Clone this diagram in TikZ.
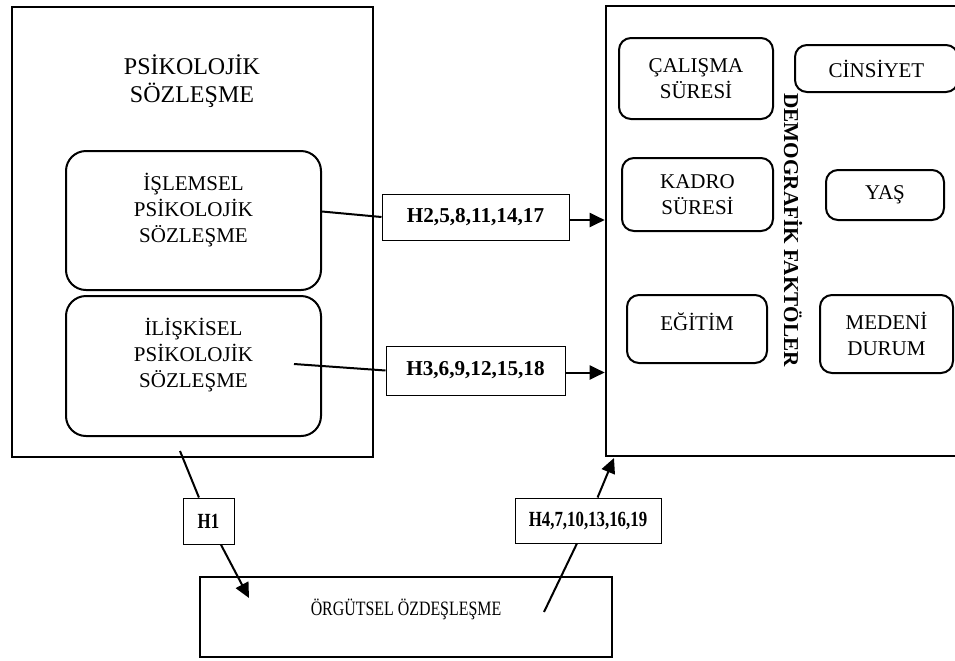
\documentclass[tikz,border=0pt]{standalone}
\usepackage{fontspec}
\setmainfont{Liberation Serif}
\newfontfamily\darserif[FakeStretch=0.78]{Liberation Serif}
\usetikzlibrary{arrows.meta}

\begin{document}
\begin{tikzpicture}[x=0.5pt, y=-0.5pt,
		disbox/.style={draw, line width=1.3pt, inner sep=0pt},
		icbox/.style={draw, line width=1pt, rounded corners=10pt, align=center, inner sep=0pt, font=\fontsize{10.5}{13}\selectfont},
		kucuk/.style={icbox, rounded corners=6pt},
		hbox/.style={draw, line width=0.5pt, inner sep=0pt, font=\fontsize{10.6}{12}\selectfont\bfseries},
		altbox/.style={hbox, font=\darserif\fontsize{10.8}{12}\selectfont\bfseries},
		cizgi/.style={line width=1pt},
		ok/.style={line width=1pt, -{Triangle[length=7.5pt, width=7pt]}}]
			\clip (0,0) rectangle (955,660);

			\node[disbox, minimum width=180.5pt, minimum height=225pt] (psk) at (192.5,232) {};
			\node[align=center, font=\fontsize{12}{14}\selectfont] (pskad) at (192,81) {PSİKOLOJİK\\SÖZLEŞME};
			\node[icbox, minimum width=127.5pt, minimum height=69.5pt] (isl) at (193.5,220.5) {İŞLEMSEL\\PSİKOLOJİK\\SÖZLEŞME\\~};
			\node[icbox, minimum width=127.5pt, minimum height=70pt] (ilk) at (193.5,366) {İLİŞKİSEL\\PSİKOLOJİK\\SÖZLEŞME\\~};

			\node[disbox, minimum width=180pt, minimum height=225pt] (dem) at (786,231) {};
			\node[rotate=-90, font=\fontsize{10.6}{12}\selectfont\bfseries] (demad) at (793,230) {DEMOGRAFİK FAKTÖLER};
			\node[kucuk, minimum width=77pt, minimum height=40.5pt] (calis) at (696,78.5) {ÇALIŞMA\\SÜRESİ};
			\node[kucuk, minimum width=81.5pt, minimum height=23.5pt] (cins) at (876.5,68.5) {CİNSİYET};
			\node[kucuk, minimum width=75.5pt, minimum height=36.5pt] (kadro) at (697.5,194.5) {KADRO\\SÜRESİ};
			\node[kucuk, minimum width=59pt, minimum height=25pt] (yas) at (885,195) {YAŞ};
			\node[kucuk, minimum width=70pt, minimum height=34pt] (egit) at (697,329) {EĞİTİM\\[-6pt]~};
			\node[kucuk, minimum width=66.5pt, minimum height=39pt] (med) at (886.5,334) {MEDENİ\\DURUM};

			\node[disbox, align=center, minimum width=206pt, minimum height=40pt, font=\darserif\fontsize{10.2}{12}\selectfont] (org) at (406,617) {ÖRGÜTSEL ÖZDEŞLEŞME\\[-2pt]~};

			\node[hbox, minimum width=93.5pt, minimum height=23pt] (h2) at (475.5,217) {H2,5,8,11,14,17};
			\node[hbox, minimum width=89.5pt, minimum height=24.5pt] (h3) at (475.5,370.5) {H3,6,9,12,15,18};
			\node[altbox, minimum width=25.5pt, minimum height=23pt] (h1) at (208.5,521) {H1};
			\node[altbox, minimum width=73pt, minimum height=22.5pt] (h4) at (588,520.5) {H4,7,10,13,16,19};

			\coordinate (ilkuc) at (294,364);
			\coordinate (h1bas) at (180,451);
			\coordinate (h1uc) at (249,598);
			\coordinate (h4bas) at (544,612);
			\coordinate (h4uc) at (614,458);

			\draw[cizgi] ([yshift=4.5pt]isl.east) -- (h2.west);
			\draw[ok] ([yshift=-1.5pt]h2.east) -- ([yshift=-1.5pt]h2.east -| dem.west);
			\draw[cizgi] (ilkuc) -- (h3.west);
			\draw[ok] ([yshift=-1pt]h3.east) -- ([yshift=-1pt]h3.east -| dem.west);
			\draw[cizgi] (h1bas) -- (h1);
			\draw[ok] (h1) -- (h1uc);
			\draw[cizgi] (h4bas) -- (h4);
			\draw[ok] (h4) -- (h4uc);
		\end{tikzpicture}
\end{document}
